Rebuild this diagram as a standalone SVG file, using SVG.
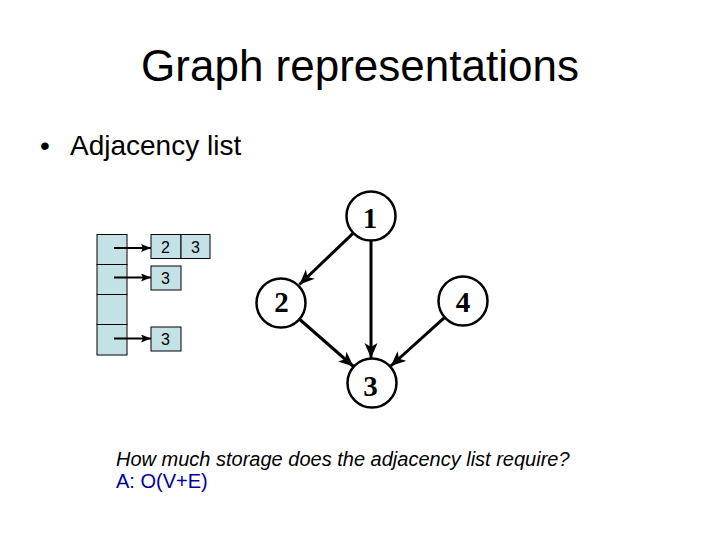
<svg xmlns="http://www.w3.org/2000/svg" width="720" height="540" viewBox="0 0 720 540">
<style>
.sans{font-family:"Liberation Sans",Arial,sans-serif;}
.cell{fill:#c4e1e5;stroke:#000;stroke-width:1;}
.lbl{font-family:"Liberation Sans",Arial,sans-serif;font-size:16px;text-anchor:middle;fill:#000;}
.node circle{fill:#fff;stroke:#000;stroke-width:2.5;}
.node text{font-family:"Liberation Serif","Times New Roman",serif;font-weight:bold;font-size:29px;text-anchor:middle;fill:#000;}
.edge{stroke:#000;stroke-width:3;fill:none;marker-end:url(#ah);}
.ptr{stroke:#000;stroke-width:2;fill:none;marker-end:url(#ahs);}
</style>
<defs>
<marker id="ah" markerUnits="userSpaceOnUse" markerWidth="16" markerHeight="14" refX="15" refY="6.5" orient="auto" viewBox="0 0 16 13">
<path d="M0,0 L15,6.5 L0,13 L4,6.5 z" fill="#000"/>
</marker>
<marker id="ahs" markerUnits="userSpaceOnUse" markerWidth="10" markerHeight="8" refX="10" refY="4" orient="auto" viewBox="0 0 10 8">
<path d="M0,0 L10,4 L0,8 L2,4 z" fill="#000"/>
</marker>
</defs>
<rect width="720" height="540" fill="#fff"/>
<text class="sans" x="360" y="81" font-size="44" text-anchor="middle">Graph representations</text>
<text class="sans" x="40" y="155" font-size="28">•</text>
<text class="sans" x="70" y="155" font-size="28">Adjacency list</text>

<g id="array">
<rect class="cell" x="97" y="234.5" width="30" height="30"/>
<rect class="cell" x="97" y="264.5" width="30" height="30"/>
<rect class="cell" x="97" y="294.5" width="30" height="30"/>
<rect class="cell" x="97" y="324.5" width="30" height="30.5"/>
</g>
<g id="list1">
<rect class="cell" x="151" y="234.5" width="30" height="24"/>
<rect class="cell" x="181" y="234.5" width="29" height="24"/>
<text class="lbl" x="165.5" y="253">2</text>
<text class="lbl" x="195.5" y="253">3</text>
</g>
<g id="list2">
<rect class="cell" x="151" y="266" width="30" height="24"/>
<text class="lbl" x="165.5" y="284">3</text>
</g>
<g id="list4">
<rect class="cell" x="151" y="327" width="30" height="24"/>
<text class="lbl" x="165.5" y="345">3</text>
</g>

<g id="connectors">
<line class="ptr" x1="114" y1="248" x2="151" y2="248"/>
<line class="ptr" x1="114" y1="277.5" x2="151" y2="277.5"/>
<line class="ptr" x1="114" y1="338.5" x2="151" y2="338.5"/>
<line class="edge" x1="353" y1="233.4" x2="299.5" y2="284.5"/>
<line class="edge" x1="371" y1="241" x2="371" y2="358"/>
<line class="edge" x1="299.8" y1="319.5" x2="353.5" y2="366.5"/>
<line class="edge" x1="444.4" y1="317.7" x2="390.8" y2="366"/>
</g>

<g id="n1" class="node"><circle cx="371" cy="216" r="24.5"/><text x="370" y="228">1</text></g>
<g id="n2" class="node"><circle cx="281" cy="303" r="24.5"/><text x="281.5" y="312">2</text></g>
<g id="n4" class="node"><circle cx="463" cy="301" r="24.5"/><text x="463" y="312">4</text></g>
<g id="n3" class="node"><circle cx="372" cy="383" r="24.5"/><text x="370.5" y="396">3</text></g>

<text class="sans" x="116" y="466" font-size="20" font-style="italic">How much storage does the adjacency list require?</text>
<text class="sans" x="116" y="488" font-size="20" fill="#000099">A: O(V+E)</text>
</svg>
